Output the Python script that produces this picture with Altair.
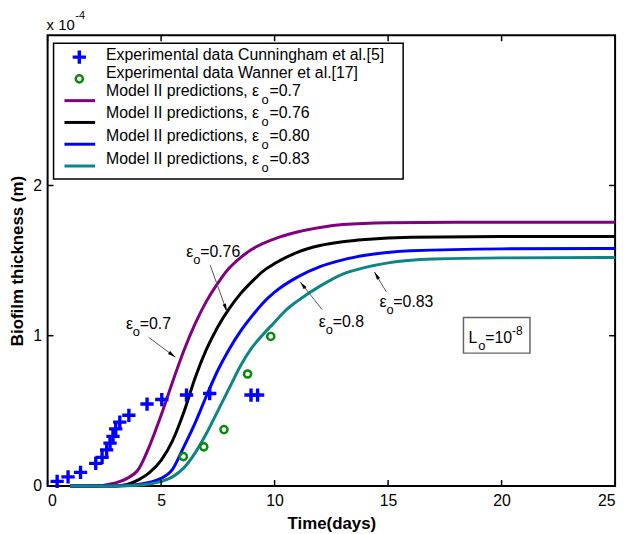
import math
import altair as alt
import pandas as pd

# ---------------- data (biofilm thickness in units of 1e-4 m) ----------------
CUNN_T = [0.42, 0.9, 1.45, 2.12, 2.4, 2.6, 2.75, 2.88, 3.0, 3.18, 3.58, 4.38, 5.03, 6.12, 7.14, 8.96, 9.25]
CUNN_L = [0.03, 0.06, 0.09, 0.15, 0.19, 0.24, 0.285, 0.33, 0.38, 0.425, 0.47, 0.545, 0.575, 0.605, 0.615, 0.605, 0.605]

WANN_T = [5.98, 6.88, 7.77, 8.81, 9.83]
WANN_L = [0.195, 0.26, 0.375, 0.745, 0.995]

EPS = ["0.7", "0.76", "0.80", "0.83"]
COLORS = ["#800080", "#000000", "#0000ff", "#0b8585"]

M070_T = [1, 2, 3, 3.5, 4, 4.5, 5, 5.5, 6, 6.5, 7, 7.5, 8, 8.5, 9, 10, 11, 12, 13, 15, 18, 25]
M070_L = [0, 0.0, 0.02, 0.05, 0.11, 0.27, 0.47, 0.69, 0.90, 1.08, 1.23, 1.35, 1.45, 1.52, 1.575, 1.645, 1.69, 1.72, 1.74, 1.752, 1.755, 1.755]

M076_T = [1, 3, 4, 4.5, 5, 5.5, 6, 6.5, 7, 7.5, 8, 8.5, 9, 9.5, 10, 11, 12, 13, 14, 16, 20, 25]
M076_L = [0, 0.0, 0.04, 0.09, 0.17, 0.30, 0.49, 0.72, 0.91, 1.06, 1.18, 1.28, 1.36, 1.43, 1.48, 1.555, 1.60, 1.625, 1.64, 1.655, 1.66, 1.66]

M080_T = [1, 3, 4, 5, 5.5, 6, 6.5, 7, 7.5, 8, 8.5, 9, 9.5, 10, 11, 12, 13, 14, 16, 20, 25]
M080_L = [0, 0.0, 0.01, 0.05, 0.11, 0.26, 0.42, 0.60, 0.77, 0.91, 1.03, 1.13, 1.22, 1.29, 1.39, 1.46, 1.505, 1.535, 1.565, 1.578, 1.58]

M083_T = [1, 3, 4, 5, 5.5, 6, 6.5, 7, 7.5, 8, 8.5, 9, 9.5, 10, 10.5, 11, 12, 13, 14, 15, 17, 20, 25]
M083_L = [0, 0.0, 0.005, 0.03, 0.06, 0.12, 0.22, 0.35, 0.50, 0.65, 0.80, 0.92, 1.01, 1.09, 1.17, 1.23, 1.33, 1.41, 1.455, 1.485, 1.51, 1.518, 1.52]

LEGEND_EXP = ["Experimental data Cunningham et al.[5]", "Experimental data Wanner et al.[17]"]
LEGEND_MODEL = "Model II predictions, ε"

# annotations: label, text anchor, arrow start, arrow tip
ANN_EPS = ["0.7", "0.76", "0.8", "0.83"]
ANN_T = [3.45, 6.11, 11.95, 14.62]
ANN_L = [1.075, 1.556, 1.088, 1.226]
ARR_T0 = [4.45, 7.16, 12.09, 14.92]
ARR_L0 = [0.989, 1.47, 1.174, 1.292]
ARR_T1 = [5.63, 7.90, 11.13, 14.40]
ARR_L1 = [0.857, 1.16, 1.358, 1.424]

BOX_T = [18.32, 21.25]
BOX_L = [0.884, 1.121]
BOX_TXT_T = 18.54
BOX_TXT_L = 0.985

XTICKS = [0, 5, 10, 15, 20, 25]
YTICKS = [0, 1, 2]

# ---------------- layout ----------------
W, H = 573, 455
XMAX, YMAX = 25, 3
FONT = "Liberation Sans"

xs = alt.Scale(domain=[0, XMAX], nice=False, zero=False)
ys = alt.Scale(domain=[0, YMAX], nice=False, zero=False)

xaxis = alt.Axis(values=XTICKS, title="Time(days)", format="d", labelFontSize=16,
                 titleFontSize=17, titleFontWeight="bold", labelPadding=7, titlePadding=7,
                 ticks=False, domain=False, grid=False, labelColor="black", titleColor="black",
                 labelFont=FONT, titleFont=FONT)
yaxis = alt.Axis(values=YTICKS, title="Biofilm thickness (m)", format="d", labelFontSize=16,
                 titleFontSize=17, titleFontWeight="bold", labelPadding=6, titlePadding=6,
                 ticks=False, domain=False, grid=False, labelColor="black", titleColor="black",
                 labelFont=FONT, titleFont=FONT)

rows = []
for eps, ts, ls in zip(EPS, [M070_T, M076_T, M080_T, M083_T], [M070_L, M076_L, M080_L, M083_L]):
    for t, l in zip(ts, ls):
        rows.append({"t": t, "L": l, "eps": eps})
df_lines = pd.DataFrame(rows)

lines = alt.Chart(df_lines).mark_line(strokeWidth=3, interpolate="monotone").encode(
    x=alt.X("t:Q", scale=xs, axis=xaxis),
    y=alt.Y("L:Q", scale=ys, axis=yaxis),
    color=alt.Color("eps:N", scale=alt.Scale(domain=EPS, range=COLORS), legend=None),
)

CROSS = "M-1,0L1,0M0,-1L0,1"
HEAD = "M0,-1L-0.45,1L0.45,1Z"

df_c = pd.DataFrame({"t": CUNN_T, "L": CUNN_L})
crosses = alt.Chart(df_c).mark_point(shape=CROSS, size=180, strokeWidth=3.4, color="#0000ff",
                                     filled=False, opacity=1).encode(x="t:Q", y="L:Q")

df_w = pd.DataFrame({"t": WANN_T, "L": WANN_L})
circles = alt.Chart(df_w).mark_point(shape="circle", size=52, strokeWidth=2.5, color="#0a8a0a",
                                     filled=False, opacity=1).encode(x="t:Q", y="L:Q")

# arrows
pxd, pyu = W / XMAX, H / YMAX
arr = []
for t0, l0, t1, l1 in zip(ARR_T0, ARR_L0, ARR_T1, ARR_L1):
    dxp, dyp = (t1 - t0) * pxd, -(l1 - l0) * pyu
    n = math.hypot(dxp, dyp)
    ux, uy = dxp / n, dyp / n
    ang = math.degrees(math.atan2(dxp, -dyp)) % 360
    arr.append({"t": t0, "L": l0, "t2": t1, "L2": l1,
                "ht": t1 - ux * 4 / pxd, "hl": l1 + uy * 4 / pyu, "ang": ang})
df_arr = pd.DataFrame(arr)
arrow_lines = alt.Chart(df_arr).mark_rule(color="#555555", strokeWidth=1).encode(
    x="t:Q", y="L:Q", x2="t2:Q", y2="L2:Q")
arrow_heads = alt.Chart(df_arr).mark_point(shape=HEAD, size=64, filled=True, color="black",
                                           opacity=1).encode(
    x="ht:Q", y="hl:Q", angle=alt.Angle("ang:Q", scale=None))

df_ann = pd.DataFrame({"t": ANN_T, "L": ANN_L, "lab": ["=" + e for e in ANN_EPS]})
tbase = dict(font=FONT, fontSize=16, align="left", baseline="middle", color="black")
ann1 = alt.Chart(df_ann).mark_text(text="ε", **tbase).encode(x="t:Q", y="L:Q")
ann2 = alt.Chart(df_ann).mark_text(text="o", dx=7, dy=8, **{**tbase, "fontSize": 13}).encode(x="t:Q", y="L:Q")
ann3 = alt.Chart(df_ann).mark_text(dx=14, **tbase).encode(x="t:Q", y="L:Q", text="lab:N")

# L0 box
df_box = pd.DataFrame({"t": [BOX_T[0]], "t2": [BOX_T[1]], "L": [BOX_L[0]], "L2": [BOX_L[1]],
                       "tt": [BOX_TXT_T], "lt": [BOX_TXT_L]})
box = alt.Chart(df_box).mark_rect(fill="white", stroke="#666666", strokeWidth=1.5).encode(
    x="t:Q", x2="t2:Q", y="L:Q", y2="L2:Q")
box1 = alt.Chart(df_box).mark_text(text="L", **tbase).encode(x="tt:Q", y="lt:Q")
box2 = alt.Chart(df_box).mark_text(text="o", dx=10, dy=8, **{**tbase, "fontSize": 13}).encode(x="tt:Q", y="lt:Q")
box3 = alt.Chart(df_box).mark_text(text="=10", dx=17, **tbase).encode(x="tt:Q", y="lt:Q")
box4 = alt.Chart(df_box).mark_text(text="-8", dx=44, dy=-7, **{**tbase, "fontSize": 12}).encode(x="tt:Q", y="lt:Q")

# inward ticks on all four sides
df_xt = pd.DataFrame({"t": XTICKS})
df_yt = pd.DataFrame({"L": YTICKS})
TK = 6
tick_b = alt.Chart(df_xt).mark_rule(color="black", strokeWidth=1.5).encode(x="t:Q", y=alt.value(H), y2=alt.value(H - TK))
tick_t = alt.Chart(df_xt).mark_rule(color="black", strokeWidth=1.5).encode(x="t:Q", y=alt.value(0), y2=alt.value(TK))
tick_l = alt.Chart(df_yt).mark_rule(color="black", strokeWidth=1.5).encode(y="L:Q", x=alt.value(0), x2=alt.value(TK))
tick_r = alt.Chart(df_yt).mark_rule(color="black", strokeWidth=1.5).encode(y="L:Q", x=alt.value(W), x2=alt.value(W - TK))

# legend (drawn by hand, in pixel positions of the plot area)
one = pd.DataFrame({"a": [0]})
leg = [alt.Chart(one).mark_rect(fill="white", stroke="black", strokeWidth=1.5).encode(
    x=alt.value(6), x2=alt.value(359), y=alt.value(8), y2=alt.value(145))]
leg.append(alt.Chart(one).mark_point(shape=CROSS, size=180, strokeWidth=3.4, color="#0000ff", opacity=1).encode(
    x=alt.value(32), y=alt.value(22)))
leg.append(alt.Chart(one).mark_point(shape="circle", size=52, strokeWidth=2.5, color="#0a8a0a", opacity=1).encode(
    x=alt.value(32), y=alt.value(44)))
TEXT_X = 59
EXP_Y = [20, 38]
MOD_Y = [56, 79, 102, 125]
SAMPLE_Y = [66, 88, 110, 132]
W1 = 156
for lab, yy in zip(LEGEND_EXP, EXP_Y):
    leg.append(alt.Chart(one).mark_text(text=lab, **tbase).encode(x=alt.value(TEXT_X), y=alt.value(yy)))
for eps, col, yy, sy in zip(EPS, COLORS, MOD_Y, SAMPLE_Y):
    leg.append(alt.Chart(one).mark_rule(color=col, strokeWidth=3).encode(
        x=alt.value(17), x2=alt.value(48), y=alt.value(sy)))
    leg.append(alt.Chart(one).mark_text(text=LEGEND_MODEL, **tbase).encode(x=alt.value(TEXT_X), y=alt.value(yy)))
    leg.append(alt.Chart(one).mark_text(text="o", **{**tbase, "fontSize": 13}).encode(
        x=alt.value(TEXT_X + W1 + 1), y=alt.value(yy + 9)))
    leg.append(alt.Chart(one).mark_text(text="=" + eps, **tbase).encode(
        x=alt.value(TEXT_X + W1 + 9), y=alt.value(yy)))

# x 10^-4 multiplier
mult = [alt.Chart(one).mark_text(text="x 10", **{**tbase, "fontSize": 15}).encode(x=alt.value(-1), y=alt.value(-10)),
        alt.Chart(one).mark_text(text="-4", **{**tbase, "fontSize": 11}).encode(x=alt.value(28), y=alt.value(-19))]

chart = alt.layer(
    lines, crosses, circles, arrow_lines, arrow_heads, ann1, ann2, ann3,
    box, box1, box2, box3, box4, tick_b, tick_t, tick_l, tick_r, *leg, *mult
).properties(
    width=W, height=H,
    autosize=alt.AutoSizeParams(type="none"),
    padding={"left": 40, "top": 25, "right": 10, "bottom": 44},
    background="white",
).configure_view(stroke="black", strokeWidth=2)

chart.save("out.html", embed_options={"renderer": "svg", "actions": False})
